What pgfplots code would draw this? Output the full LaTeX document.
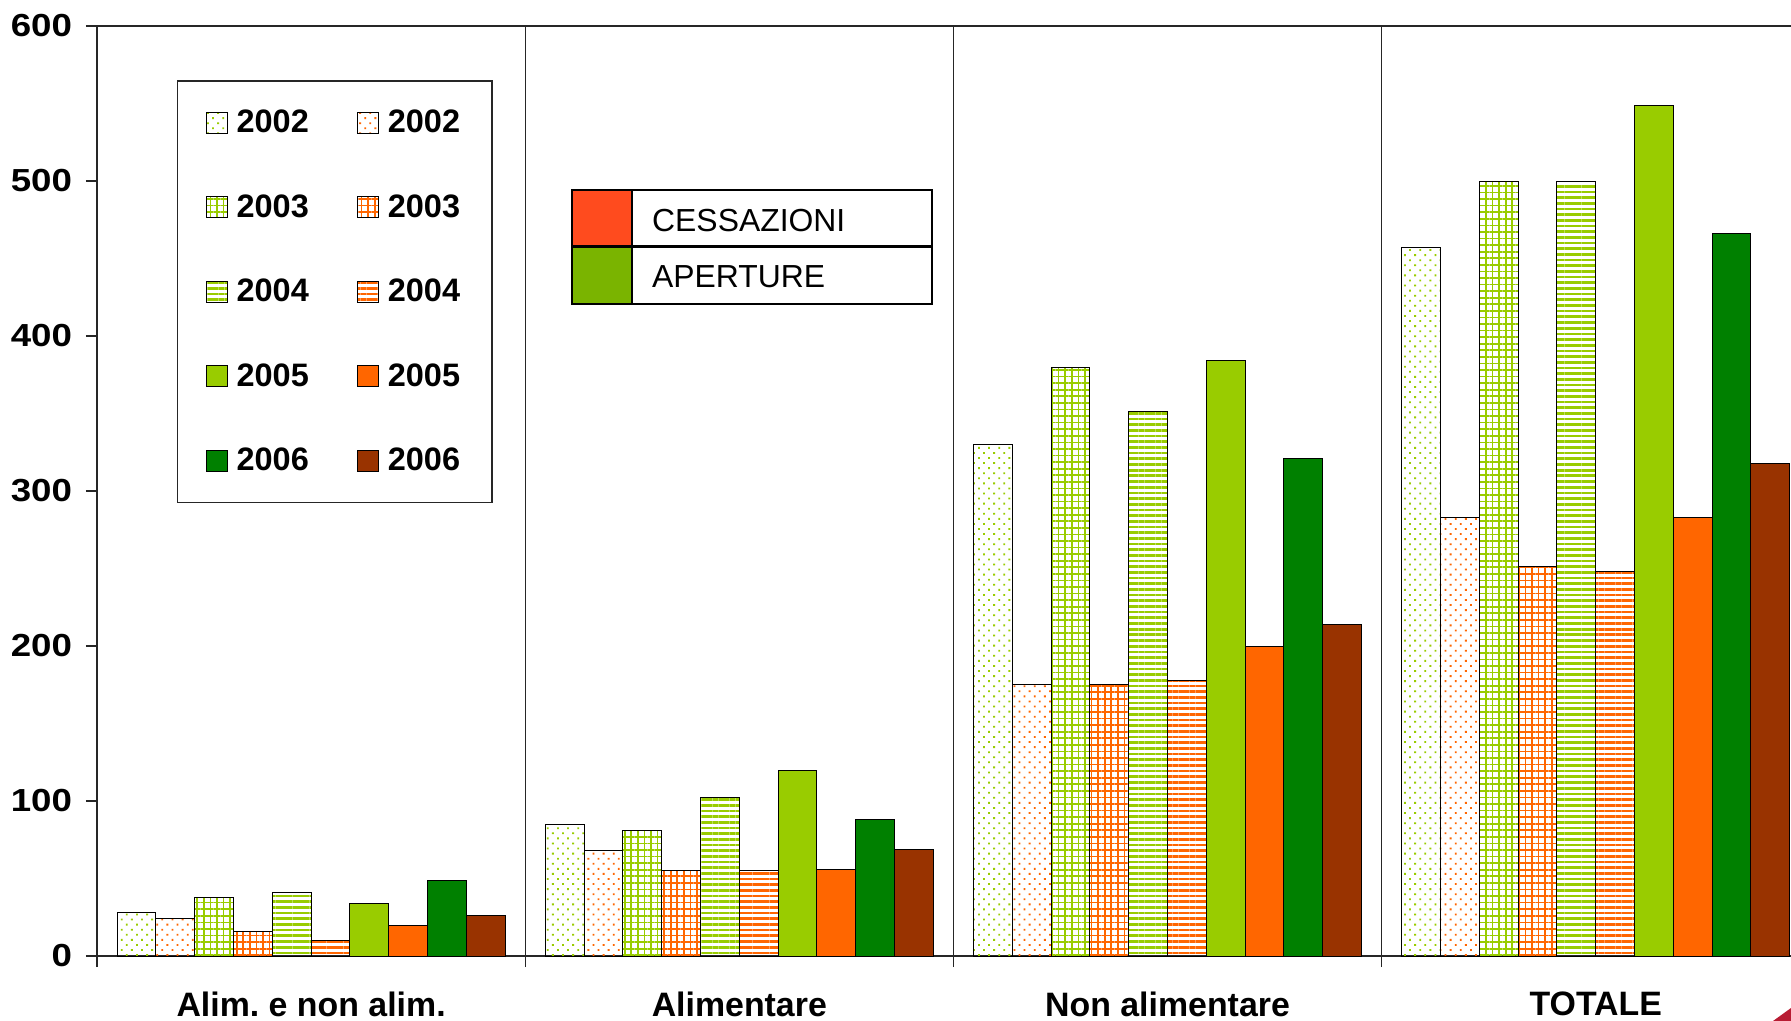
\documentclass[border=0pt]{standalone}
\usepackage{fontspec}
\setmainfont{Liberation Sans}
\newfontfamily\tickfont{Liberation Sans}[FakeStretch=1.15]
\usepackage{pgfplots}
\pgfplotsset{compat=1.18}
\usetikzlibrary{patterns.meta}
\definecolor{lg}{HTML}{99CC00}
\definecolor{orng}{HTML}{FF6600}
\definecolor{dg}{HTML}{008000}
\definecolor{brn}{HTML}{993300}
\definecolor{cred}{HTML}{FF4B1E}
\definecolor{cgreen}{HTML}{7AB400}
\definecolor{deco}{HTML}{B81C33}
\frenchspacing
\begin{document}
\begin{tikzpicture}
\useasboundingbox (-48.5bp,-32.5bp) rectangle (847bp,478bp);
\begin{axis}[
 scale only axis, width=847bp, height=465bp,
 xmin=-0.5, xmax=3.456, ymin=0, ymax=600,
 axis y line*=left,
 ybar=0pt, bar width=0.0906,
 tick align=outside, major tick length=5.5bp,
 xtick={-0.5,0.5,1.5,2.5}, xticklabels={},
 xtick pos=bottom,
 xmajorgrids, major grid style={black!85, line width=0.7bp},
 extra x ticks={0,1,2,3},
 extra x tick labels={Alim. e non alim., Alimentare, Non alimentare, TOTALE},
 extra x tick style={grid=none, tick style={draw=none}, tick label style={font=\frenchspacing\bfseries\fontsize{17}{20}\selectfont, yshift=-9bp}},
 ytick={0,100,...,600},
 yticklabel style={font=\tickfont\bfseries\fontsize{16}{19}\selectfont, xshift=-3.5bp},
 /pgf/number format/assume math mode=true,
 axis line style={black!85, line width=0.7bp},
 tick style={black!85, line width=0.7bp},
 legend columns=2,
 legend cell align=left,
 legend image code/.code={\draw[#1, draw=black, line width=0.5bp] (0bp,-5.25bp) rectangle (10.5bp,5.25bp);},
 legend style={at={(0.0472,0.942)}, anchor=north west, draw=black!85, line width=0.7bp, inner xsep=14bp, inner ysep=12.5bp, row sep=25.4bp, yshift=-0.2bp, font=\bfseries\fontsize{16.3}{19}\selectfont, /tikz/every even column/.append style={column sep=22bp}, /tikz/every odd column/.append style={column sep=2.5bp}},
]
\addplot[draw=black, line width=0.5bp, pattern={Dots[angle=45,distance=3.6pt,radius=0.65pt]}, pattern color=lg] coordinates {(0,28) (1,85) (2,330) (3,457)};
\addplot[draw=black, line width=0.5bp, pattern={Dots[angle=45,distance=3.6pt,radius=0.65pt]}, pattern color=orng] coordinates {(0,24) (1,68) (2,175) (3,283)};
\addplot[draw=black, line width=0.5bp, pattern={Hatch[angle=0,distance=3.3pt,line width=0.85pt]}, pattern color=lg] coordinates {(0,38) (1,81) (2,380) (3,500)};
\addplot[draw=black, line width=0.5bp, pattern={Hatch[angle=0,distance=3.3pt,line width=0.85pt]}, pattern color=orng] coordinates {(0,16) (1,55) (2,175) (3,251)};
\addplot[draw=black, line width=0.5bp, pattern={Lines[angle=0,distance=2.85pt,line width=1.35pt]}, pattern color=lg] coordinates {(0,41) (1,102) (2,351) (3,500)};
\addplot[draw=black, line width=0.5bp, pattern={Lines[angle=0,distance=2.85pt,line width=1.35pt]}, pattern color=orng] coordinates {(0,10) (1,55) (2,178) (3,248)};
\addplot[draw=black, line width=0.5bp, fill=lg] coordinates {(0,34) (1,120) (2,384) (3,549)};
\addplot[draw=black, line width=0.5bp, fill=orng] coordinates {(0,20) (1,56) (2,200) (3,283)};
\addplot[draw=black, line width=0.5bp, fill=dg] coordinates {(0,49) (1,88) (2,321) (3,466)};
\addplot[draw=black, line width=0.5bp, fill=brn] coordinates {(0,26) (1,69) (2,214) (3,318)};
\legend{2002,2002,2003,2003,2004,2004,2005,2005,2006,2006}
\end{axis}
\fill[cred] (237.35bp,354.65bp) rectangle (267.35bp,383bp);
\fill[cgreen] (237.35bp,326bp) rectangle (267.35bp,354.65bp);
\draw[line width=1.2bp] (237.35bp,326bp) rectangle (417.35bp,383bp);
\draw[line width=1.2bp] (237.35bp,354.65bp) -- (417.35bp,354.65bp);
\draw[line width=1.2bp] (267.35bp,326bp) -- (267.35bp,383bp);
\node[anchor=base west, inner sep=0, font=\fontsize{16}{19}\selectfont] at (277.4bp,362bp) {CESSAZIONI};
\node[anchor=base west, inner sep=0, font=\fontsize{16}{19}\selectfont] at (277.4bp,334bp) {APERTURE};
\fill[deco] (838bp,-32.5bp) -- (847bp,-26bp) -- (847bp,-32.5bp) -- cycle;
\end{tikzpicture}
\end{document}
